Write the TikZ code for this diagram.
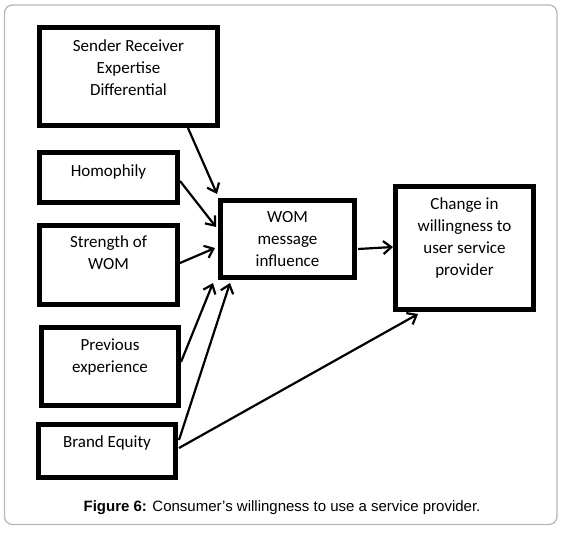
\documentclass[tikz,border=0pt]{standalone}
\usepackage{fontspec}
\setmainfont{Carlito}
\newfontfamily\capfont{Liberation Sans}
\usetikzlibrary{arrows.meta,calc}
\definecolor{framec}{HTML}{B8B8B8}
\tikzset{
  boxnode/.style={draw=black, line width=5pt, inner sep=0pt},
  txt/.style={align=center, inner sep=0pt, font=\fontsize{17}{22}\selectfont},
  conn/.style={line width=2.2pt, -{Straight Barb[length=8pt,width=13pt]}},
}
\begin{document}
\begin{tikzpicture}[x=1pt,y=-1pt]
\useasboundingbox (0,0) rectangle (565,533);
\draw[framec, line width=1.3pt, rounded corners=8pt] (4.5,5) rectangle (557,524.5);

\node[boxnode, minimum width=178pt, minimum height=98pt] (sre) at (128.5,76.5) {};
\node[boxnode, minimum width=138pt, minimum height=50pt] (hom) at (108.5,177.5) {};
\node[boxnode, minimum width=138pt, minimum height=79pt] (str) at (108.5,265) {};
\node[boxnode, minimum width=137pt, minimum height=78pt] (prev) at (110,366.5) {};
\node[boxnode, minimum width=137pt, minimum height=53pt] (brand) at (107,451) {};
\node[boxnode, minimum width=134pt, minimum height=77pt] (wom) at (287.5,239) {};
\node[boxnode, minimum width=138pt, minimum height=123pt] (chg) at (464.5,248) {};

\node[txt] (tsre) at (128.5,67.5) {Sender Receiver\\Expertise\\Differential};
\node[txt] (thom) at (108.5,171.5) {Homophily};
\node[txt] (tstr) at (108.5,253) {Strength of\\WOM};
\node[txt] (tprev) at (110,357.5) {Previous\\experience};
\node[txt] (tbrand) at (107,442.5) {Brand Equity};
\node[txt] (twom) at (287.5,239.5) {WOM\\message\\influence};
\node[txt] (tchg) at (464.5,237.5) {Change in\\willingness to\\user service\\provider};

\draw[conn] ($(sre.south)+(59.5,0)$) -- ($(wom.north west)+(-1,-4)$);
\draw[conn] ($(hom.east)+(0,3.5)$) -- ($(wom.west)+(-2,-12)$);
\draw[conn] ($(str.east)+(0,-2)$) -- ($(wom.west)+(-3,9)$);
\draw[conn] ($(prev.east)+(0,-4.5)$) -- ($(wom.south west)+(-5,3)$);
\draw[conn] ($(brand.east)+(1,-11)$) -- ($(wom.south west)+(12,3)$);
\draw[conn] ($(brand.east)+(1,-3)$) -- ($(chg.south west)+(25,2)$);
\draw[conn] ($(wom.east)+(1,10)$) -- ($(chg.west)+(0,-1)$);

\node[inner sep=0pt, font=\capfont\fontsize{15}{18}\selectfont] (cap) at (282,507.5) {\textbf{Figure 6:} Consumer’s willingness to use a service provider.};
\end{tikzpicture}
\end{document}
